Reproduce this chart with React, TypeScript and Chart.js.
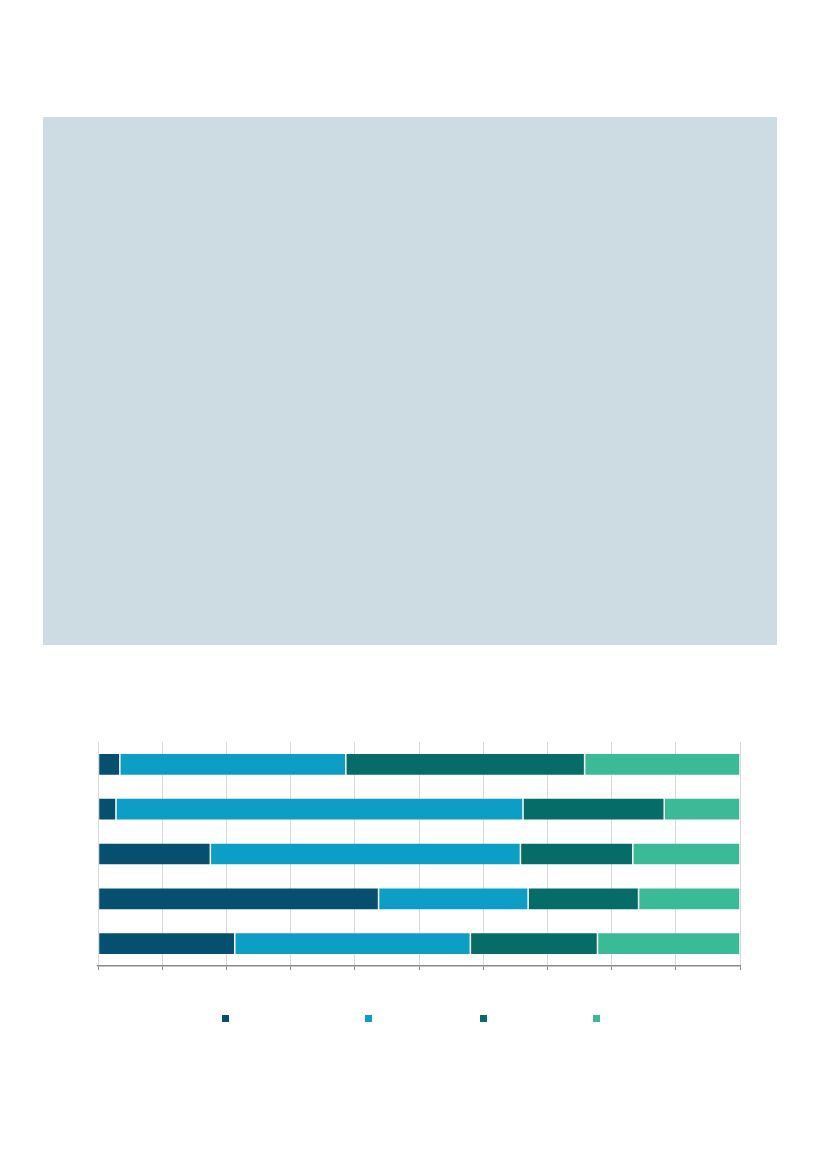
import { useEffect, useRef } from 'react';
import { Chart, registerables } from 'chart.js';

Chart.register(...registerables);

// rows from top to bottom (no visible labels in the reference)
const categories = ['1', '2', '3', '4', '5'];
const seriesNames = ['', '', '', ''];
const seriesColors = ['#064f6e', '#0c9ec5', '#056c68', '#3bba98'];
const seriesA = [3.4, 2.8, 17.5, 43.7, 21.3];
const seriesB = [35.2, 63.4, 48.3, 23.3, 36.7];
const seriesC = [37.2, 22.0, 17.5, 17.2, 19.8];
const seriesD = [24.2, 11.8, 16.7, 15.8, 22.2];
const xTicks = [0, 10, 20, 30, 40, 50, 60, 70, 80, 90, 100];

// legend square centres on the page
const legendX = [225, 368, 483, 596];

const StackedBars: React.FC = () => {
  const chartRef = useRef<HTMLCanvasElement>(null);

  useEffect(() => {
    if (!chartRef.current) return;
    const values = [seriesA, seriesB, seriesC, seriesD];
    const chart = new Chart(chartRef.current, {
      type: 'bar',
      data: {
        labels: categories,
        datasets: values.map((data, i) => ({
          label: seriesNames[i],
          data,
          backgroundColor: seriesColors[i],
          borderColor: 'rgba(255,255,255,0.15)',
          borderWidth: 0.75,
          borderSkipped: false,
          categoryPercentage: 0.8,
          barPercentage: 0.62,
        })),
      },
      options: {
        indexAxis: 'y',
        animation: false,
        responsive: true,
        maintainAspectRatio: false,
        layout: { padding: { left: 2, right: 1, top: 0, bottom: 0 } },
        plugins: {
          legend: { display: false },
          tooltip: { enabled: false },
        },
        scales: {
          x: {
            stacked: true,
            min: xTicks[0],
            max: xTicks[xTicks.length - 1],
            afterBuildTicks: (axis) => {
              axis.ticks = xTicks.map((v) => ({ value: v }));
            },
            ticks: { display: false },
            grid: {
              color: '#d9d9d9',
              lineWidth: 1,
              drawTicks: true,
              tickLength: 4,
              tickColor: '#8a8a8a',
            },
            border: { display: true, color: '#8a8a8a', width: 1.5 },
          },
          y: {
            stacked: true,
            display: false,
          },
        },
      },
    });
    return () => chart.destroy();
  }, []);

  return (
    <div style={{ position: 'absolute', left: 96, top: 742, width: 645, height: 228 }}>
      <canvas ref={chartRef}></canvas>
    </div>
  );
};

const App: React.FC = () => {
  return (
    <div
      style={{
        position: 'absolute',
        left: 0,
        top: 0,
        width: 827,
        height: 1169,
        background: '#ffffff',
        fontFamily: '"Noto Sans", sans-serif',
        overflow: 'hidden',
      }}
    >
      <div
        style={{
          position: 'absolute',
          left: 43,
          top: 117,
          width: 734,
          height: 528,
          background: '#cddce3',
        }}
      />
      <StackedBars />
      {seriesColors.map((c, i) => (
        <div
          key={i}
          title={seriesNames[i]}
          style={{
            position: 'absolute',
            left: legendX[i] - 3.5,
            top: 1015,
            width: 7,
            height: 7,
            background: c,
          }}
        />
      ))}
    </div>
  );
};

export default App;
